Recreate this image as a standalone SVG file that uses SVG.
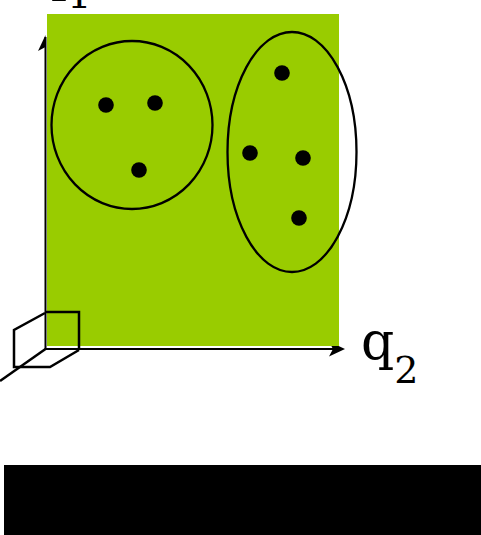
<svg xmlns="http://www.w3.org/2000/svg" width="481" height="535" viewBox="0 0 481 535">
<style>
.ax{stroke:#000;stroke-width:2;fill:none}
.bx{stroke:#000;stroke-width:2.5;fill:none}
.cl{stroke:#000;stroke-width:2.3;fill:none}
.pt{fill:#000}
.lb{font-family:"DejaVu Serif","Liberation Serif",serif;fill:#000}
</style>
<rect width="481" height="535" fill="#fff"/>
<g id="connectors">
<line class="ax" x1="45.5" y1="349" x2="45.5" y2="37"/>
<path d="M45.5 35 L38 51 L45.5 47 Z" fill="#000"/>
<line class="ax" x1="45" y1="349" x2="342" y2="349"/>
<path d="M345 349 L329 341.5 L333 349 L329 356.5 Z" fill="#000"/>
<line class="bx" x1="0" y1="381" x2="45.5" y2="349"/>
</g>
<g id="plane">
<rect x="47" y="14" width="292" height="332" fill="#99cc00"/>
</g>
<g id="box">
<path class="bx" d="M45 312 L79 312 L79 350 M45 313 L14 330 L14 367 L50 367 L79 350"/>
</g>
<g id="cluster1">
<ellipse class="cl" cx="132" cy="125" rx="80.5" ry="84"/>
<circle class="pt" cx="106" cy="105" r="7.8"/>
<circle class="pt" cx="155" cy="103" r="7.8"/>
<circle class="pt" cx="139" cy="170" r="7.8"/>
</g>
<g id="cluster2">
<ellipse class="cl" cx="292" cy="152" rx="64.5" ry="120"/>
<circle class="pt" cx="282" cy="73" r="7.8"/>
<circle class="pt" cx="250" cy="153" r="7.8"/>
<circle class="pt" cx="303" cy="158" r="7.8"/>
<circle class="pt" cx="299" cy="218" r="7.8"/>
</g>
<g id="label-q1">
<text class="lb" x="34" y="-10" font-size="52">q<tspan font-size="38" dy="18">1</tspan></text>
</g>
<g id="label-q2">
<text class="lb" x="361" y="359" font-size="52">q<tspan font-size="38" dy="24">2</tspan></text>
</g>
<rect id="bar" x="4" y="465" width="477" height="70" fill="#000"/>
</svg>
